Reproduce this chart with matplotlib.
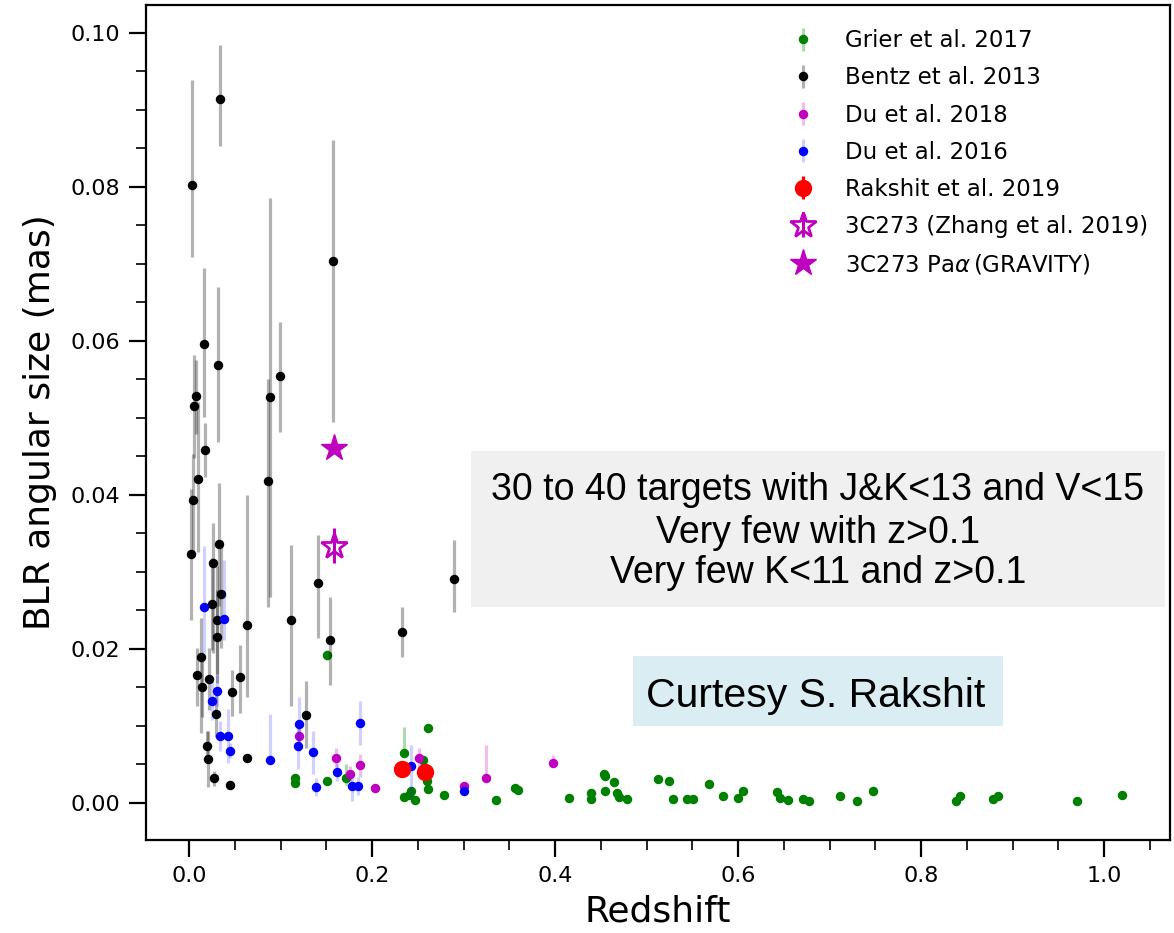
import matplotlib
matplotlib.use("Agg")
import matplotlib.pyplot as plt
from matplotlib.patches import Rectangle
from matplotlib.ticker import MultipleLocator, FormatStrFormatter

# ---------------- data ----------------
# Grier et al. 2017 (green)
grier_z = [0.151, 0.1155, 0.1155, 0.151, 0.171, 0.235, 0.2615, 0.260, 0.2615, 0.256,
           0.235, 0.2425, 0.247, 0.240, 0.279, 0.335, 0.356, 0.360, 0.415, 0.439,
           0.439, 0.453, 0.455, 0.4645, 0.4545, 0.468, 0.470, 0.479, 0.513, 0.524,
           0.5285, 0.544, 0.551, 0.568, 0.5836, 0.600, 0.605, 0.642, 0.646, 0.654,
           0.671, 0.677, 0.711, 0.7297, 0.747, 0.838, 0.843, 0.879, 0.8845, 0.970, 1.020]
grier_s = [0.0192, 0.0033, 0.0026, 0.0028, 0.0033, 0.0065, 0.0097, 0.0028, 0.0018, 0.0056,
           0.0008, 0.0015, 0.0004, 0.0011, 0.0011, 0.0004, 0.0019, 0.0017, 0.0007, 0.0013,
           0.0005, 0.0038, 0.0035, 0.0027, 0.0015, 0.0013, 0.0008, 0.0005, 0.0031, 0.0029,
           0.0005, 0.0005, 0.0005, 0.0025, 0.0009, 0.0006, 0.0016, 0.0014, 0.0007, 0.0004,
           0.0005, 0.0002, 0.0009, 0.0002, 0.0016, 0.0003, 0.0009, 0.0005, 0.0009, 0.0003, 0.0010]
grier_lo = [0.0007, 0.0003, 0.0003, 0.0003, 0.0010, 0.0004, 0.0003, 0.0003, 0.0002, 0.0004,
            0.0001, 0.0001, 0.0001, 0.0001, 0.0001, 0.0001, 0.0001, 0.0001, 0.0001, 0.0001,
            0.0001, 0.0002, 0.0002, 0.0002, 0.0001, 0.0001, 0.0001, 0.0001, 0.0002, 0.0002,
            0.0001, 0.0001, 0.0001, 0.0002, 0.0001, 0.0001, 0.0001, 0.0001, 0.0001, 0.0001,
            0.0001, 0.0001, 0.0001, 0.0001, 0.0001, 0.0001, 0.0001, 0.0001, 0.0001, 0.0001, 0.0001]
grier_hi = [0.0007, 0.0003, 0.0003, 0.0003, 0.0018, 0.0034, 0.0003, 0.0003, 0.0002, 0.0004,
            0.0001, 0.0001, 0.0001, 0.0001, 0.0001, 0.0001, 0.0001, 0.0001, 0.0001, 0.0001,
            0.0001, 0.0002, 0.0002, 0.0002, 0.0001, 0.0001, 0.0001, 0.0001, 0.0002, 0.0002,
            0.0001, 0.0001, 0.0001, 0.0002, 0.0001, 0.0001, 0.0001, 0.0001, 0.0001, 0.0001,
            0.0001, 0.0001, 0.0001, 0.0001, 0.0001, 0.0001, 0.0001, 0.0001, 0.0001, 0.0001, 0.0001]

# Bentz et al. 2013 (black)
bentz_z = [0.003, 0.034, 0.157, 0.016, 0.032, 0.099, 0.089, 0.008, 0.005, 0.017,
           0.0095, 0.086, 0.004, 0.002, 0.033, 0.026, 0.035, 0.025, 0.031, 0.063,
           0.030, 0.111, 0.141, 0.154, 0.2325, 0.2896, 0.013, 0.009, 0.022, 0.0145,
           0.056, 0.047, 0.029, 0.128, 0.020, 0.021, 0.063, 0.027, 0.045]
bentz_s = [0.0802, 0.0914, 0.0704, 0.0596, 0.0569, 0.0554, 0.0527, 0.0529, 0.0515, 0.0458,
           0.0421, 0.0418, 0.0393, 0.0323, 0.0336, 0.0312, 0.0271, 0.0258, 0.0238, 0.0231,
           0.0216, 0.0237, 0.0286, 0.0211, 0.0222, 0.0291, 0.0190, 0.0166, 0.0161, 0.0151,
           0.0164, 0.0144, 0.0116, 0.0114, 0.0074, 0.0057, 0.0058, 0.0032, 0.0023]
bentz_lo = [0.0093, 0.0061, 0.0209, 0.0095, 0.0100, 0.0072, 0.0260, 0.0050, 0.0067, 0.0035,
            0.0095, 0.0163, 0.0070, 0.0085, 0.0080, 0.0117, 0.0070, 0.0060, 0.0070, 0.0093,
            0.0060, 0.0111, 0.0072, 0.0058, 0.0032, 0.0043, 0.0099, 0.0040, 0.0040, 0.0040,
            0.0047, 0.0031, 0.0030, 0.0043, 0.0020, 0.0036, 0.0005, 0.0010, 0.0005]
bentz_hi = [0.0136, 0.0070, 0.0157, 0.0099, 0.0101, 0.0071, 0.0259, 0.0046, 0.0067, 0.0035,
            0.0100, 0.0132, 0.0060, 0.0085, 0.0080, 0.0052, 0.0070, 0.0060, 0.0070, 0.0169,
            0.0060, 0.0098, 0.0062, 0.0057, 0.0033, 0.0051, 0.0050, 0.0035, 0.0040, 0.0040,
            0.0041, 0.0029, 0.0030, 0.0044, 0.0020, 0.0036, 0.0005, 0.0010, 0.0005]

# Du et al. 2018 (magenta)
du18_z = [0.120, 0.161, 0.187, 0.1755, 0.2035, 0.251, 0.3005, 0.325, 0.398]
du18_s = [0.0087, 0.0059, 0.0049, 0.0038, 0.0020, 0.0059, 0.0022, 0.0032, 0.0052]
du18_lo = [0.0015, 0.0012, 0.0015, 0.0010, 0.0005, 0.0012, 0.0005, 0.0002, 0.0003]
du18_hi = [0.0015, 0.0012, 0.0015, 0.0010, 0.0005, 0.0012, 0.0005, 0.0043, 0.0010]

# Du et al. 2016 (blue)
du16_z = [0.016, 0.038, 0.031, 0.0255, 0.0335, 0.043, 0.045, 0.088, 0.120, 0.119,
          0.187, 0.1355, 0.162, 0.1385, 0.178, 0.185, 0.2425, 0.300]
du16_s = [0.0255, 0.0239, 0.0146, 0.0133, 0.0087, 0.0087, 0.0068, 0.0056, 0.0102, 0.0074,
          0.0104, 0.0066, 0.0040, 0.0021, 0.0022, 0.0022, 0.0048, 0.0016]
du16_lo = [0.0060, 0.0027, 0.0020, 0.0025, 0.0020, 0.0035, 0.0010, 0.0005, 0.0035, 0.0030,
           0.0029, 0.0028, 0.0012, 0.0012, 0.0020, 0.0012, 0.0040, 0.0005]
du16_hi = [0.0079, 0.0077, 0.0020, 0.0025, 0.0020, 0.0035, 0.0010, 0.0060, 0.0035, 0.0030,
           0.0029, 0.0028, 0.0012, 0.0012, 0.0012, 0.0012, 0.0027, 0.0005]

# Rakshit et al. 2019 (red)
rak_z = [0.2325, 0.2575]
rak_s = [0.0044, 0.0040]
rak_err = [0.0003, 0.0003]

# 3C273
zhang_z = [0.158]
zhang_s = [0.0334]
zhang_err = [0.0023]
grav_z = [0.158]
grav_s = [0.0461]

legend_labels = ["Grier et al. 2017", "Bentz et al. 2013", "Du et al. 2018",
                 "Du et al. 2016", "Rakshit et al. 2019",
                 "3C273 (Zhang et al. 2019)", r"3C273 Pa$\alpha\,$(GRAVITY)"]

# ---------------- figure ----------------
fig = plt.figure(figsize=(11.74, 9.33), dpi=100)
ax = fig.add_axes([0.1244, 0.0997, 0.8722, 0.895])

ms = 5.8
elw = 2.3

ax.errorbar(grier_z, grier_s, yerr=[grier_lo, grier_hi], fmt='o', color='g', ms=ms,
            ecolor=(0.0, 0.5, 0.0, 0.3), elinewidth=elw, label=legend_labels[0], zorder=2)
ax.errorbar(bentz_z, bentz_s, yerr=[bentz_lo, bentz_hi], fmt='o', color='k', ms=ms,
            ecolor=(0, 0, 0, 0.3), elinewidth=elw, label=legend_labels[1], zorder=3)
ax.errorbar(du18_z, du18_s, yerr=[du18_lo, du18_hi], fmt='o', color='m', ms=ms,
            ecolor=(0.75, 0, 0.75, 0.25), elinewidth=elw, label=legend_labels[2], zorder=4)
ax.errorbar(du16_z, du16_s, yerr=[du16_lo, du16_hi], fmt='o', color='b', ms=ms,
            ecolor=(0, 0, 1, 0.18), elinewidth=elw, label=legend_labels[3], zorder=5)
ax.errorbar(rak_z, rak_s, yerr=rak_err, fmt='o', color='r', ms=11.5,
            ecolor='r', elinewidth=elw, label=legend_labels[4], zorder=6)
ax.errorbar(zhang_z, zhang_s, yerr=zhang_err, fmt='*', color='m', ms=19,
            mfc='none', mec='m', mew=2.0, ecolor='m', elinewidth=2.2,
            label=legend_labels[5], zorder=7)
ax.errorbar(grav_z, grav_s, fmt='*', color='m', ms=20, label=legend_labels[6], zorder=7)

ax.set_xlim(-0.047, 1.072)
ax.set_ylim(-0.0048, 0.1036)
ax.xaxis.set_major_locator(MultipleLocator(0.2))
ax.xaxis.set_minor_locator(MultipleLocator(0.05))
ax.yaxis.set_major_locator(MultipleLocator(0.02))
ax.yaxis.set_minor_locator(MultipleLocator(0.005))
ax.xaxis.set_major_formatter(FormatStrFormatter('%.1f'))
ax.yaxis.set_major_formatter(FormatStrFormatter('%.2f'))
ax.tick_params(which='major', length=12, width=1.6, pad=6.5, labelsize=16, direction='out')
ax.tick_params(which='minor', length=7, width=1.2, direction='out')
for sp in ax.spines.values():
    sp.set_linewidth(1.6)

ax.set_xlabel("Redshift", fontsize=26, labelpad=6)
ax.set_ylabel("BLR angular size (mas)", fontsize=26, labelpad=10)

leg = ax.legend(loc='upper left', bbox_to_anchor=(0.610, 0.982), borderaxespad=0,
                frameon=False, fontsize=16.5, labelspacing=0.62, handletextpad=0.85,
                handlelength=2.0)

# annotation boxes
ax.add_patch(Rectangle((0.317, 0.279), 0.995 - 0.317, 0.466 - 0.279, transform=ax.transAxes,
                       facecolor='#f0f0f0', edgecolor='none', zorder=8))
box_lines = ["30 to 40 targets with J&K<13 and V<15", "Very few with z>0.1",
             "Very few K<11 and z>0.1"]
for txt, yy in zip(box_lines, [0.4072, 0.3553, 0.3074]):
    ax.text(0.656, yy, txt, transform=ax.transAxes, ha='center', va='baseline',
            fontsize=27, family='Liberation Sans', zorder=9)

ax.add_patch(Rectangle((0.476, 0.1365), 0.837 - 0.476, 0.2207 - 0.1365, transform=ax.transAxes,
                       facecolor='#daedf3', edgecolor='none', zorder=8))
ax.text(0.654, 0.1596, "Curtesy S. Rakshit", transform=ax.transAxes, ha='center',
        va='baseline', fontsize=29.5, family='Liberation Sans', zorder=9)

fig.savefig("out.png", dpi=100)
